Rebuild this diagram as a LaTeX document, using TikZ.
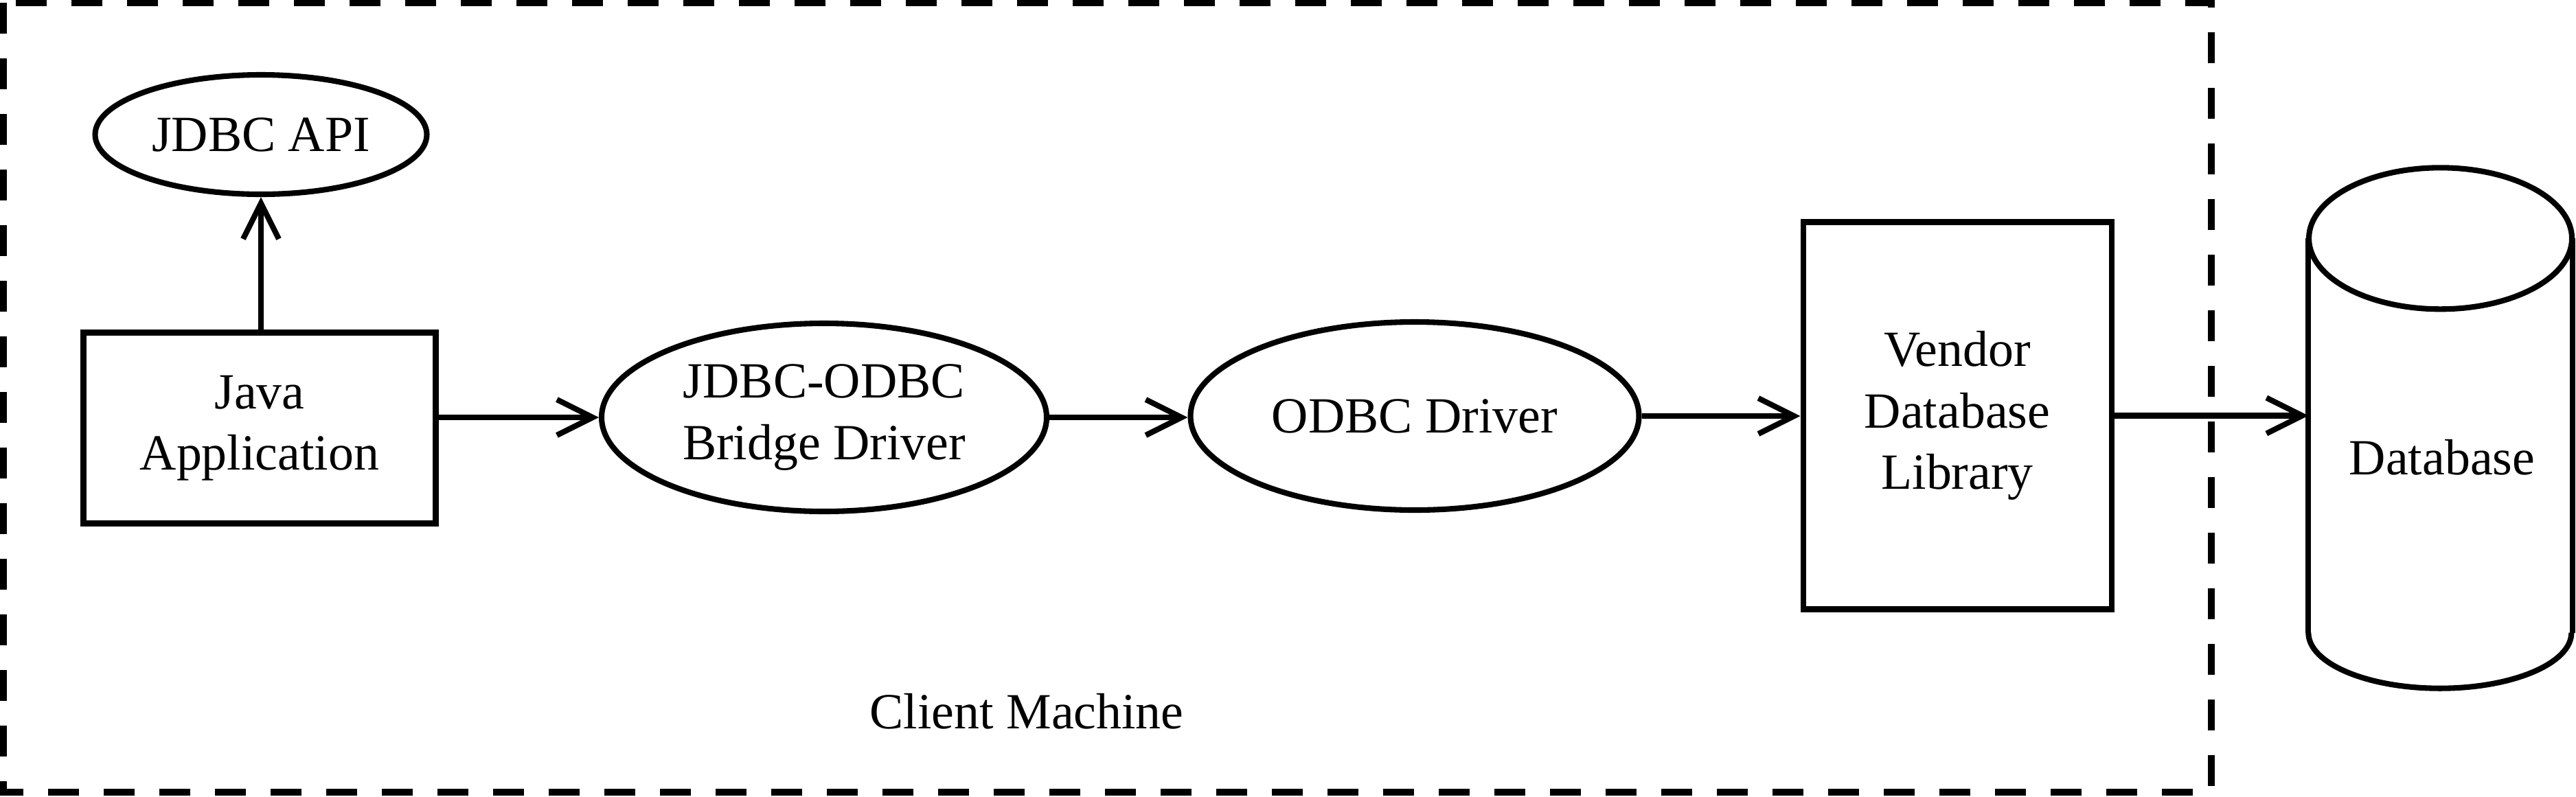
\documentclass[tikz,border=0pt]{standalone}
\usepackage{fontspec}
\setmainfont{Liberation Serif}
\usetikzlibrary{shapes.geometric,arrows.meta}
\begin{document}
\begin{tikzpicture}[x=1cm,y=1cm,
  every node/.style={font=\fontsize{21}{25.5}\selectfont, align=center},
  ell/.style={draw, ellipse, line width=2.3pt, inner sep=0pt},
  boxn/.style={draw, rectangle, line width=2.3pt, inner sep=0pt},
  arr/.style={line width=2.3pt, -{Straight Barb[length=5.2mm,width=5.2mm,line width=2.3pt]}},
  clientbox/.style={line width=2.7pt, dash pattern=on 0.45cm off 0.36cm},
  cyl/.style={line width=2.3pt}
]
\useasboundingbox (0,0) rectangle (37.51,-11.60);
% client machine dashed frame
\draw[clientbox] (0.05,-0.04) rectangle (32.20,-11.54);
% nodes
\node[ell, minimum width=4.83cm, minimum height=1.74cm] (api) at (3.80,-1.96) {JDBC API};
\node[boxn, minimum width=5.13cm, minimum height=2.78cm] (app) at (3.78,-6.235) {Java\\Application};
\node[ell, minimum width=6.48cm, minimum height=2.74cm] (bridge) at (12.00,-6.08) {JDBC-ODBC\\Bridge Driver};
\node[ell, minimum width=6.53cm, minimum height=2.74cm] (odbc) at (20.60,-6.06) {ODBC Driver};
\node[boxn, minimum width=4.49cm, minimum height=5.64cm] (vendor) at (28.50,-6.055) {Vendor\\Database\\Library};
\node[minimum width=3.83cm, minimum height=5.73cm, inner sep=0pt] (db) at (35.535,-6.345) {};
\node (dbtext) at (35.56,-6.66) {Database};
\node[anchor=base] (client) at (14.95,-10.61) {Client Machine};
% cylinder
\draw[cyl] (db.north) ellipse [x radius=1.915cm, y radius=1.03cm];
\draw[cyl] (db.north west) -- (db.south west);
\draw[cyl] (db.north east) -- (db.south east);
\draw[cyl] (db.south west) arc [start angle=180, end angle=360, x radius=1.915cm, y radius=0.81cm];
% connectors
\draw[arr] (app.north -| api.south) -- (api.south);
\draw[arr] (app.east |- bridge.west) -- (bridge.west);
\draw[arr] (bridge.east) -- (bridge.east -| odbc.west);
\draw[arr] (odbc.east) -- (odbc.east -| vendor.west);
\draw[arr] (vendor.east) -- (vendor.east -| db.west);
\end{tikzpicture}
\end{document}
